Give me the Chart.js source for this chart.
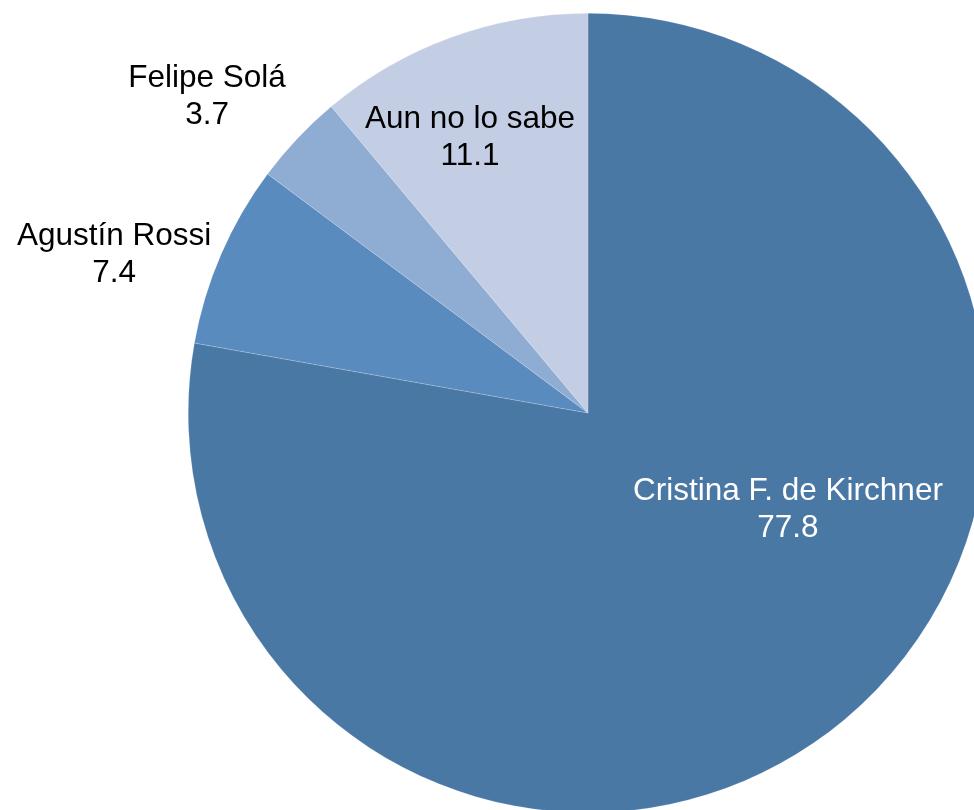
<!DOCTYPE html>
<html>
<head>
<meta charset="utf-8">
<script src="https://cdn.jsdelivr.net/npm/chart.js@4"></script>
<style>
  html, body { margin: 0; padding: 0; background: #fff; overflow: hidden; }
  #wrap { width: 1000px; height: 826px; }
</style>
</head>
<body>
<div id="wrap"><canvas id="pieChart" width="1000" height="826"></canvas></div>
<script>
// Pie: intención de voto (%)

const candidates = ['Cristina F. de Kirchner', 'Agustín Rossi', 'Felipe Solá', 'Aun no lo sabe'];
const shares = [77.8, 7.4, 3.7, 11.1];
const shareLabels = ['77.8', '7.4', '3.7', '11.1'];

const sliceColors = ['#4a78a5', '#5a8bbf', '#8fadd2', '#c3cde3'];
const labelColors = ['#ffffff', '#000000', '#000000', '#000000'];
// where each label sits: fraction of the slice's sweep, and fraction of the radius
const labelSpots = [
  { along: 0.413, dist: 0.555 },
  { along: 0.316, dist: 1.25 },
  { along: 0.23, dist: 1.24 },
  { along: 0.42, dist: 0.75 }
];

const sliceLabels = {
  id: 'sliceLabels',
  afterDraw: function (chart) {
    const ctx = chart.ctx;
    const meta = chart.getDatasetMeta(0);
    ctx.save();
    ctx.font = '31.5px "Liberation Sans", Arial, Helvetica, sans-serif';
    ctx.textAlign = 'center';
    ctx.textBaseline = 'middle';
    meta.data.forEach(function (arc, i) {
      const p = arc.getProps(['x', 'y', 'startAngle', 'endAngle', 'outerRadius'], true);
      const spot = labelSpots[i];
      const ang = p.startAngle + (p.endAngle - p.startAngle) * spot.along;
      const r = p.outerRadius * spot.dist;
      const cx = p.x + Math.cos(ang) * r;
      const cy = p.y + Math.sin(ang) * r;
      ctx.fillStyle = labelColors[i];
      ctx.fillText(candidates[i], cx, cy - 18);
      ctx.fillText(shareLabels[i], cx, cy + 19);
    });
    ctx.restore();
  }
};

new Chart(document.getElementById('pieChart').getContext('2d'), {
  type: 'pie',
  data: {
    labels: candidates,
    datasets: [{
      data: shares,
      backgroundColor: sliceColors,
      borderColor: 'rgba(255,255,255,0.35)',
      borderWidth: 0.5
    }]
  },
  options: {
    responsive: false,
    animation: false,
    devicePixelRatio: 1,
    layout: { padding: { left: 188, top: 13, right: 12, bottom: 13 } },
    plugins: {
      legend: { display: false },
      tooltip: { enabled: false }
    }
  },
  plugins: [sliceLabels]
});
</script>
</body>
</html>
